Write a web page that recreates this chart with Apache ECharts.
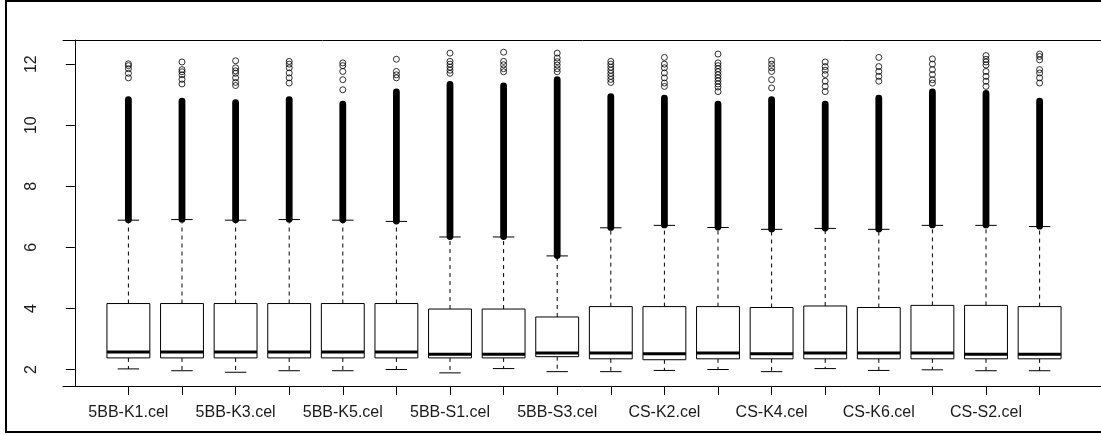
<!DOCTYPE html>
<html>
<head>
<meta charset="utf-8">
<script src="https://cdn.jsdelivr.net/npm/echarts@6/dist/echarts.min.js"></script>
<style>
html,body{margin:0;padding:0;background:#fff;}
#chart{width:1101px;height:435px;}
</style>
</head>
<body>
<div id="chart"></div>
<script>
const categories = ['5BB-K1.cel','5BB-K2.cel','5BB-K3.cel','5BB-K4.cel','5BB-K5.cel','5BB-K6.cel',
  '5BB-S1.cel','5BB-S2.cel','5BB-S3.cel','CS-K1.cel','CS-K2.cel','CS-K3.cel',
  'CS-K4.cel','CS-K5.cel','CS-K6.cel','CS-S1.cel','CS-S2.cel','CS-S3.cel'];
const lowerWhisker = [2.02,1.96,1.91,1.96,1.96,2.00,1.89,2.03,1.93,1.93,1.97,2.00,1.93,2.03,1.97,1.99,1.96,1.96];
const q1 = [2.38,2.38,2.38,2.38,2.38,2.38,2.38,2.38,2.42,2.35,2.32,2.35,2.35,2.35,2.35,2.35,2.35,2.35];
const median = [2.57,2.57,2.57,2.57,2.57,2.57,2.50,2.50,2.54,2.54,2.52,2.54,2.52,2.54,2.54,2.54,2.50,2.50];
const q3 = [4.16,4.16,4.16,4.16,4.16,4.16,3.98,3.98,3.72,4.06,4.06,4.06,4.03,4.08,4.03,4.10,4.10,4.06];
const upperWhisker = [6.89,6.91,6.89,6.91,6.89,6.85,6.34,6.34,5.72,6.64,6.72,6.65,6.59,6.62,6.59,6.72,6.72,6.68];
const outlierBandTop = [10.95,10.9,10.85,10.95,10.8,11.2,11.45,11.4,11.6,11.05,11.0,10.8,10.95,10.8,11.0,11.2,11.15,10.9];
const outlierCircles = [
  [12.01,11.95,11.85,11.70,11.55],
  [12.07,11.82,11.75,11.65,11.50,11.35],
  [12.11,11.88,11.78,11.70,11.55,11.40,11.30],
  [12.09,12.00,11.88,11.71,11.55,11.38],
  [12.04,11.95,11.76,11.49,11.16],
  [12.16,11.76,11.65,11.55],
  [12.36,12.09,12.00,11.90,11.80,11.70],
  [12.39,12.09,11.98,11.85,11.75],
  [12.36,12.20,12.08,11.97,11.85,11.75],
  [12.09,12.00,11.90,11.80,11.70,11.60,11.50,11.40],
  [12.22,12.00,11.88,11.71,11.55,11.38,11.27],
  [12.33,12.04,11.95,11.85,11.75,11.65,11.55,11.45,11.35,11.25,11.10],
  [12.12,12.00,11.88,11.76,11.49,11.22],
  [12.07,11.92,11.80,11.66,11.44,11.27,11.10],
  [12.22,11.92,11.76,11.60,11.44],
  [12.17,12.00,11.82,11.66,11.49,11.38],
  [12.28,12.16,12.07,11.97,11.76,11.60,11.44,11.27],
  [12.33,12.25,12.14,11.82,11.71,11.55,11.38]
];
const yTicks = [2,4,6,8,10,12];
const xTickPositions = categories.map((c, i) => i + 1);
const xLabelPositions = xTickPositions.filter(p => p % 2 === 1);

const boxData = categories.map((c, i) => [i + 1, lowerWhisker[i], q1[i], median[i], q3[i], upperWhisker[i], outlierBandTop[i]]);
const circleData = [];
outlierCircles.forEach((arr, i) => arr.forEach(v => circleData.push([i + 1, v])));

const font = "'Liberation Sans', Arial, sans-serif";
const chart = echarts.init(document.getElementById('chart'), null, {renderer: 'canvas'});
chart.setOption({
  animation: false,
  backgroundColor: '#fff',
  graphic: [{
    type: 'polyline', silent: true,
    shape: {points: [[1101, 1], [6, 1], [6, 432], [1101, 432]]},
    style: {fill: 'none', stroke: '#000', lineWidth: 2}
  }],
  grid: {left: 63, top: 40, width: 1042, height: 346, show: false, containLabel: false, outerBoundsMode: 'none'},
  xAxis: [{
    type: 'value', min: -0.22, max: 19.22, position: 'bottom',
    splitLine: {show: false},
    axisLine: {show: true, lineStyle: {color: '#000', width: 1}},
    axisTick: {show: true, length: 9, customValues: xTickPositions, lineStyle: {color: '#000'}},
    axisLabel: {
      customValues: xLabelPositions, margin: 19, fontSize: 16, fontFamily: font, color: '#1a1a1a',
      formatter: v => categories[Math.round(v) - 1] || ''
    }
  }, {
    type: 'value', min: -0.22, max: 19.22, position: 'top',
    splitLine: {show: false},
    axisLine: {show: true, lineStyle: {color: '#000', width: 1}},
    axisTick: {show: false},
    axisLabel: {show: false}
  }],
  yAxis: {
    type: 'value', min: 1.46, max: 12.79,
    splitLine: {show: false},
    axisLine: {show: true, lineStyle: {color: '#000', width: 1}},
    axisTick: {show: true, length: 9, customValues: yTicks, lineStyle: {color: '#000'}},
    axisLabel: {customValues: yTicks, rotate: 90, margin: 23, fontSize: 16, fontFamily: font, color: '#1a1a1a'}
  },
  series: [{
    type: 'custom',
    encode: {x: 0, y: [1, 2, 3, 4, 5, 6]},
    data: boxData,
    renderItem: function (params, api) {
      const x = api.value(0);
      const py = v => api.coord([x, v])[1];
      const cx = api.coord([x, api.value(3)])[0];
      const halfW = api.size([0.8, 0])[0] / 2;
      const ylw = py(api.value(1)), yq1 = py(api.value(2)), ym = py(api.value(3));
      const yq3 = py(api.value(4)), yuw = py(api.value(5)), ybt = py(api.value(6));
      const dash = {stroke: '#000', lineWidth: 1, lineDash: [4, 4]};
      const solid = {stroke: '#000', lineWidth: 1};
      return {type: 'group', children: [
        {type: 'rect', shape: {x: cx - 3.4, y: ybt, width: 6.8, height: yuw - ybt + 3, r: 3.4}, style: {fill: '#000'}},
        {type: 'line', shape: {x1: cx, y1: yq3, x2: cx, y2: yuw}, style: dash},
        {type: 'line', shape: {x1: cx, y1: yq1, x2: cx, y2: ylw}, style: dash},
        {type: 'line', shape: {x1: cx - halfW / 2, y1: yuw, x2: cx + halfW / 2, y2: yuw}, style: solid},
        {type: 'line', shape: {x1: cx - halfW / 2, y1: ylw, x2: cx + halfW / 2, y2: ylw}, style: solid},
        {type: 'rect', shape: {x: cx - halfW, y: yq3, width: 2 * halfW, height: yq1 - yq3}, style: {fill: '#fff', stroke: '#000', lineWidth: 1}},
        {type: 'line', shape: {x1: cx - halfW, y1: ym, x2: cx + halfW, y2: ym}, style: {stroke: '#000', lineWidth: 3}}
      ]};
    }
  }, {
    type: 'scatter',
    data: circleData,
    symbol: 'circle',
    symbolSize: 6,
    itemStyle: {color: 'rgba(0,0,0,0)', borderColor: '#000', borderWidth: 1},
    z: 3
  }]
});
</script>
</body>
</html>
